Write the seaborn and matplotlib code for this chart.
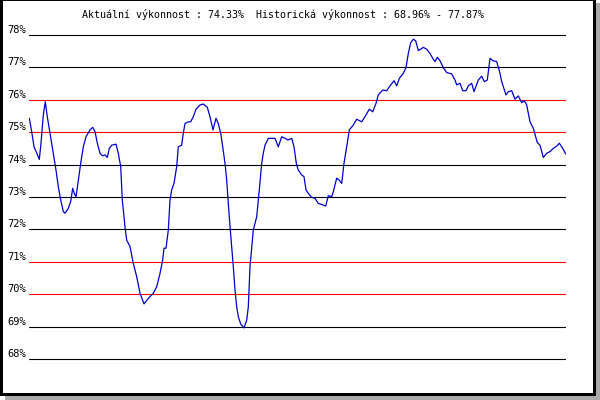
import numpy as np
import pandas as pd
import matplotlib
matplotlib.use("Agg")
import matplotlib.pyplot as plt
from matplotlib.patches import Rectangle
import seaborn as sns

# traced series: sample position and performance (%)
pos = [0.3, 2.7, 5, 7.7, 10.3, 12, 14.3, 16.3, 18.3, 21, 24.3, 27, 29.3, 31.7, 34.3, 36, 39.3,
       41.7, 43.7, 45.3, 47, 49.3, 51.7, 54.3, 57, 61, 63.7, 66, 68.3, 71, 73.7, 76, 78.3, 80.3,
       82.7, 87, 89.3, 91.7, 93.3, 96, 97.7, 101, 104.3, 107.7, 111, 115, 119.3, 124.3, 127.7,
       131, 133.7, 135, 137, 139.3, 141, 142.7, 145, 147.7, 149.3, 152.7, 154, 156, 159.3, 161.7,
       164.3, 167, 171, 174.3, 178.3, 181, 184, 187, 189.3, 191.7, 193.7, 196, 197.7, 199.3, 201,
       202.7, 204.3, 206, 207.7, 209.3, 211.7, 215, 217.7, 219.3, 221, 224.3, 227.7, 230.3, 232.7,
       234.3, 236, 239.3, 242.7, 246, 249.3, 252.7, 256, 259, 262.7, 265, 267.3, 269.3, 272.7,
       275, 277, 279.3, 282.7, 286, 289.3, 292.7, 296.7, 299.3, 302.7, 304.3, 307.7, 310.3, 312.7,
       315, 317.7, 320.3, 324.3, 327.7, 332.7, 336, 340.3, 343.7, 347, 349.3, 353.7, 357.7, 360.3,
       365, 367.7, 370.3, 374.3, 377, 379.3, 381.7, 384.3, 386.7, 389.3, 391.7, 394.3, 397.7,
       401, 404.3, 406, 408.3, 411, 414.3, 417.7, 422.7, 426, 427.7, 431, 433.7, 437, 439.3, 442.7,
       445, 449.3, 452.7, 455.3, 458.3, 461, 464.3, 467.7, 471, 472.7, 477, 479.3, 482.7, 486,
       489.3, 492.7, 495.3, 497.7, 501, 504.3, 508.3, 511, 514.3, 517.7, 521, 524.3, 527.7, 530.3,
       532.7, 535, 536.7]
perf = [75.43, 75.02, 74.55, 74.36, 74.16, 74.66, 75.53, 75.94, 75.48, 74.97, 74.35, 73.83, 73.32,
        72.91, 72.55, 72.50, 72.65, 72.86, 73.27, 73.11, 73.00, 73.52, 74.04, 74.55, 74.86, 75.07,
        75.15, 75.02, 74.66, 74.35, 74.27, 74.30, 74.22, 74.50, 74.60, 74.63, 74.35, 73.94, 72.91,
        72.08, 71.67, 71.47, 70.95, 70.54, 70.03, 69.70, 69.87, 70.03, 70.23, 70.64, 71.06, 71.42,
        71.42, 71.98, 72.91, 73.22, 73.42, 73.94, 74.55, 74.60, 74.91, 75.27, 75.32, 75.32, 75.48,
        75.71, 75.84, 75.87, 75.77, 75.48, 75.07, 75.43, 75.27, 74.97, 74.55, 74.04, 73.52, 72.80,
        72.10, 71.47, 70.85, 70.13, 69.61, 69.31, 69.08, 68.96, 69.20, 69.61, 70.85, 71.98, 72.39,
        73.22, 74.04, 74.35, 74.60, 74.81, 74.81, 74.81, 74.55, 74.86, 74.81, 74.76, 74.81, 74.55,
        74.04, 73.83, 73.68, 73.63, 73.22, 73.11, 72.99, 72.96, 72.80, 72.77, 72.72, 73.04, 73.01,
        73.16, 73.58, 73.52, 73.42, 74.04, 74.55, 75.07, 75.22, 75.40, 75.32, 75.48, 75.71, 75.63,
        75.89, 76.15, 76.30, 76.28, 76.40, 76.59, 76.43, 76.66, 76.82, 76.99, 77.43, 77.76, 77.87,
        77.82, 77.52, 77.56, 77.62, 77.56, 77.43, 77.25, 77.18, 77.31, 77.21, 76.99, 76.84, 76.80,
        76.61, 76.46, 76.51, 76.28, 76.28, 76.43, 76.51, 76.25, 76.61, 76.73, 76.56, 76.61, 77.28,
        77.20, 77.18, 76.82, 76.56, 76.15, 76.25, 76.28, 76.02, 76.12, 75.91, 75.97, 75.84, 75.32,
        75.12, 74.68, 74.60, 74.22, 74.35, 74.40, 74.50, 74.57, 74.66, 74.55, 74.43, 74.33]

levels = [78, 77, 76, 75, 74, 73, 72, 71, 70, 69, 68]
red_levels = [76, 75, 71, 70]
title = "Aktuální výkonnost : 74.33%  Historická výkonnost : 68.96% - 77.87%"

df = pd.DataFrame({"pos": pos, "perf": perf})

sns.set_style("white")
plt.rcParams["font.family"] = ["DejaVu Sans Mono"]

fig = plt.figure(figsize=(6, 4), dpi=100)
fig.patch.set_facecolor("white")
ax = fig.add_axes([29 / 600, 20 / 400, 537 / 600, 360 / 400])
ax.set_xlim(0, 537)
ax.set_ylim(68 - 21 / 32.4, 78 + 15 / 32.4)
ax.axis("off")

for lv in levels:
    c = "#ff0000" if lv in red_levels else "#000000"
    ax.axhline(lv, color=c, lw=0.8, zorder=1)
    ax.text(-3 / 537, lv, f"{lv}%", transform=ax.get_yaxis_transform(),
            ha="right", va="bottom", fontsize=7.5, color="black")

sns.lineplot(data=df, x="pos", y="perf", ax=ax, color="#0000c8", lw=0.9, zorder=3)
ax.set_xlim(0, 537)
ax.axis("off")

fig.text(82 / 600, 1 - 14 / 400, title, ha="left", va="center", fontsize=7.2, color="black")

# frame with grey shadow
def rect(x0, y0, w, h, c):
    fig.patches.append(Rectangle((x0 / 600, 1 - (y0 + h) / 400), w / 600, h / 400,
                                 transform=fig.transFigure, color=c, lw=0, zorder=10))

rect(5, 396, 595, 4, "#aaaaaa")
rect(596, 3, 4, 397, "#aaaaaa")
rect(0, 0, 3, 396, "black")
rect(0, 393, 596, 3, "black")
rect(593, 0, 3, 396, "black")
rect(0, 0, 596, 1, "black")

fig.savefig("out.png", dpi=100)
